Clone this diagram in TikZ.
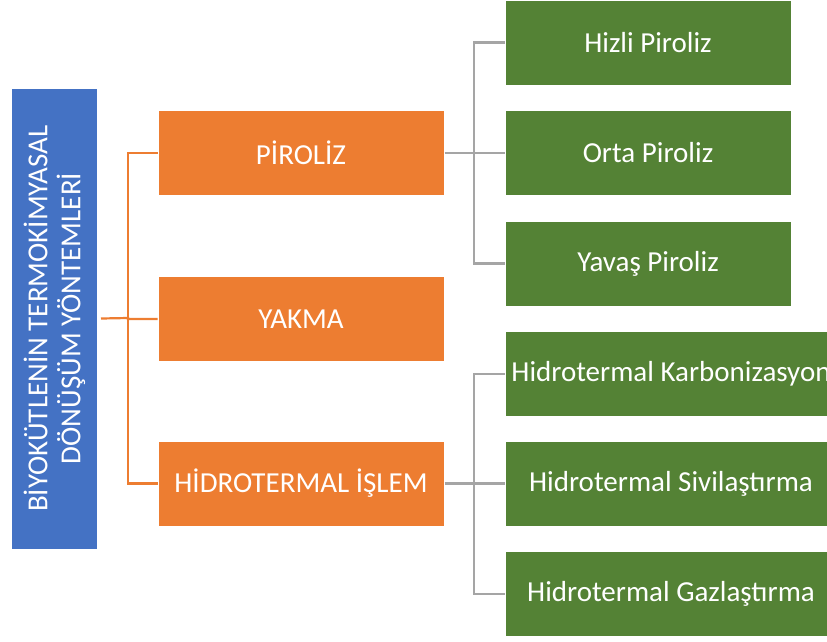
\documentclass[tikz,border=0pt]{standalone}
\usepackage{fontspec}
\setmainfont{Carlito}
\definecolor{mblue}{HTML}{4472C4}
\definecolor{morange}{HTML}{ED7D31}
\definecolor{mgreen}{HTML}{548235}
\definecolor{mgray}{HTML}{A5A5A5}
\tikzset{
    box/.style={draw=white, line width=1pt, text=white, inner sep=0pt, align=center,
        font=\fontsize{29}{34}\selectfont},
    rootbox/.style={box, fill=mblue, rotate=90, minimum width=461pt, minimum height=86pt,
        font=\fontsize{29}{33}\selectfont},
    methodbox/.style={box, fill=morange, minimum width=286pt, minimum height=85pt},
    typebox/.style={box, fill=mgreen, minimum width=286pt, minimum height=85pt},
    widebox/.style={typebox, minimum width=332pt},
    oline/.style={draw=morange, line width=2.2pt},
    gline/.style={draw=mgray, line width=2.2pt}
}
\begin{document}
\begin{tikzpicture}[x=1pt, y=-1pt]
    \useasboundingbox (0,0) rectangle (827,641);
    % left column
    \node[rootbox] (root) at (54.5,318.5) {B\.IYOKÜTLEN\.IN TERMOK\.IMYASAL\\D\"ON\"U\c{S}\"UM Y\"ONTEMLER\.I};
    % middle column
    \node[methodbox] (piroliz) at (301,153) {P\.IROL\.IZ};
    \node[methodbox] (yakma) at (301,319) {YAKMA};
    \node[methodbox] (hidro) at (301,483.5) {H\.IDROTERMAL \.I\c{S}LEM};
    % right column
    \node[typebox] (hizli) at (648,42.5) {Hizli Piroliz};
    \node[typebox] (orta) at (648,153) {Orta Piroliz};
    \node[typebox] (yavas) at (648,263.5) {Yava\c{s} Piroliz};
    \node[widebox] (karbon) at (671,374) {Hidrotermal Karbonizasyon};
    \node[widebox] (sivi) at (671,483.5) {Hidrotermal Sivila\c{s}t\i rma};
    \node[widebox] (gaz) at (671,594) {Hidrotermal Gazla\c{s}t\i rma};
    % connectors
    \coordinate (otrunk) at (128,318);
    \coordinate (gtrunk) at (474,153);
    \draw[oline] ([xshift=3pt]root.south) -- (otrunk) -- (otrunk |- yakma.west) -- (yakma.west);
    \draw[oline] (piroliz.west) -- (otrunk |- piroliz.west) -- (otrunk |- hidro.west) -- (hidro.west);
    \draw[gline] (piroliz.east) -- (orta.west);
    \draw[gline] (hizli.west) -- (gtrunk |- hizli.west) -- (gtrunk |- yavas.west) -- (yavas.west);
    \draw[gline] (hidro.east) -- (sivi.west);
    \draw[gline] (karbon.west) -- (gtrunk |- karbon.west) -- (gtrunk |- gaz.west) -- (gaz.west);
\end{tikzpicture}
\end{document}
